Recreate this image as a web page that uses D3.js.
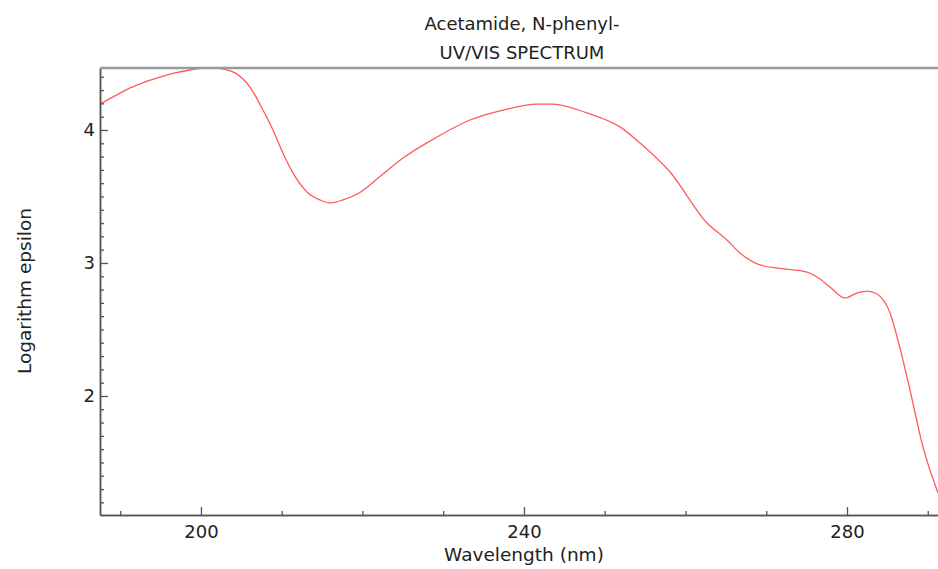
<!DOCTYPE html>
<html>
<head>
<meta charset="utf-8">
<script src="https://cdn.jsdelivr.net/npm/d3@7"></script>
<style>
  html, body { margin: 0; padding: 0; background: #fff; }
  svg text { font-family: "DejaVu Sans", sans-serif; fill: #222; }
</style>
</head>
<body>
<svg id="chart" width="938" height="569"></svg>
<script>
// Spectrum: wavelength (nm) and log10(epsilon)
const wavelength = [187.5, 189.35, 191.2, 193.07, 194.92, 196.78, 198.64, 200.5, 201.73, 202.97,
  204.21, 206.07, 207.68, 208.92, 210.15, 211.39, 213.13, 214.74, 215.98, 217.59,
  219.69, 222.17, 225.02, 229.23, 233.31, 237.4, 241.61, 243.59, 247.8,
  251.89, 254.37, 258.09, 262.66, 265.14, 266.75, 269.23, 271.7, 275.05, 276.66,
  277.89, 279.75, 281.24, 282.48, 283.72, 285.33, 286.56, 287.8, 289.41, 291.27];
const logEpsilon = [4.195, 4.256, 4.316, 4.361, 4.398, 4.429, 4.451, 4.466, 4.466, 4.455,
  4.429, 4.323, 4.15, 4.0, 3.827, 3.677, 3.534, 3.474, 3.451, 3.474,
  3.53, 3.65, 3.789, 3.947, 4.075, 4.15, 4.195, 4.195, 4.128,
  4.023, 3.902, 3.684, 3.301, 3.173, 3.075, 2.985, 2.959, 2.932, 2.88,
  2.82, 2.737, 2.774, 2.789, 2.767, 2.624, 2.36, 2.045, 1.617, 1.271];

const xMajorTicks = [200, 240, 280];
const xMinorTicks = [190, 210, 220, 230, 250, 260, 270, 290];
const yMajorTicks = [2, 3, 4];
const yMinorTicks = d3.range(12, 45).map(d => d / 10).filter(d => !yMajorTicks.includes(d));

const titleLines = ["Acetamide, N-phenyl-", "UV/VIS SPECTRUM"];
const xLabel = "Wavelength (nm)";
const yLabel = "Logarithm epsilon";

const width = 938, height = 569;
const margin = { top: 68, right: 0, bottom: 54, left: 100 };

const svg = d3.select("#chart");

const x = d3.scaleLinear()
  .domain([187.5, 291.27])
  .range([margin.left, width - margin.right]);
const y = d3.scaleLinear()
  .domain([1.105, 4.466])
  .range([height - margin.bottom, margin.top]);

const axisColor = "#555";

// Spectrum curve
const pts = wavelength.map((w, i) => [w, logEpsilon[i]]);
svg.append("path")
  .datum(pts)
  .attr("fill", "none")
  .attr("stroke", "#ff5a5a")
  .attr("stroke-width", 1.3)
  .attr("d", d3.line().x(d => x(d[0])).y(d => y(d[1])).curve(d3.curveMonotoneX));

function styleAxis(g) {
  g.select(".domain").attr("stroke", axisColor).attr("stroke-width", 1.5);
  g.selectAll(".tick line").attr("stroke", axisColor).attr("stroke-width", 1.3);
  g.selectAll(".tick text").attr("font-size", 18).attr("fill", "#222")
    .attr("font-family", "DejaVu Sans, sans-serif");
}

// Bottom axis (ticks pointing inward)
const xMinorG = svg.append("g")
  .attr("transform", `translate(0,${height - margin.bottom})`)
  .call(d3.axisBottom(x).tickValues(xMinorTicks).tickSizeInner(-4).tickSizeOuter(0).tickFormat(""));
styleAxis(xMinorG);

const xG = svg.append("g")
  .attr("transform", `translate(0,${height - margin.bottom})`)
  .call(d3.axisBottom(x).tickValues(xMajorTicks).tickSizeInner(-8).tickSizeOuter(0).tickPadding(10).tickFormat(d3.format("d")));
styleAxis(xG);

// Left axis (ticks pointing inward)
const yMinorG = svg.append("g")
  .attr("transform", `translate(${margin.left},0)`)
  .call(d3.axisLeft(y).tickValues(yMinorTicks).tickSizeInner(-4).tickSizeOuter(0).tickFormat(""));
styleAxis(yMinorG);

const yG = svg.append("g")
  .attr("transform", `translate(${margin.left},0)`)
  .call(d3.axisLeft(y).tickValues(yMajorTicks).tickSizeInner(-8).tickSizeOuter(0).tickPadding(5).tickFormat(d3.format("d")));
styleAxis(yG);

// Top frame line
svg.append("line")
  .attr("x1", margin.left).attr("x2", width - margin.right)
  .attr("y1", margin.top).attr("y2", margin.top)
  .attr("stroke", "#999").attr("stroke-width", 2.5);

// Title
svg.append("g").selectAll("text")
  .data(titleLines)
  .join("text")
  .attr("x", 522)
  .attr("y", (d, i) => 30 + i * 29)
  .attr("text-anchor", "middle")
  .attr("font-size", 18)
  .text(d => d);

// Axis labels
svg.append("text")
  .attr("x", x(240))
  .attr("y", 561)
  .attr("text-anchor", "middle")
  .attr("font-size", 18.5)
  .text(xLabel);

svg.append("text")
  .attr("transform", `translate(31,291) rotate(-90)`)
  .attr("text-anchor", "middle")
  .attr("font-size", 18.5)
  .text(yLabel);
</script>
</body>
</html>
